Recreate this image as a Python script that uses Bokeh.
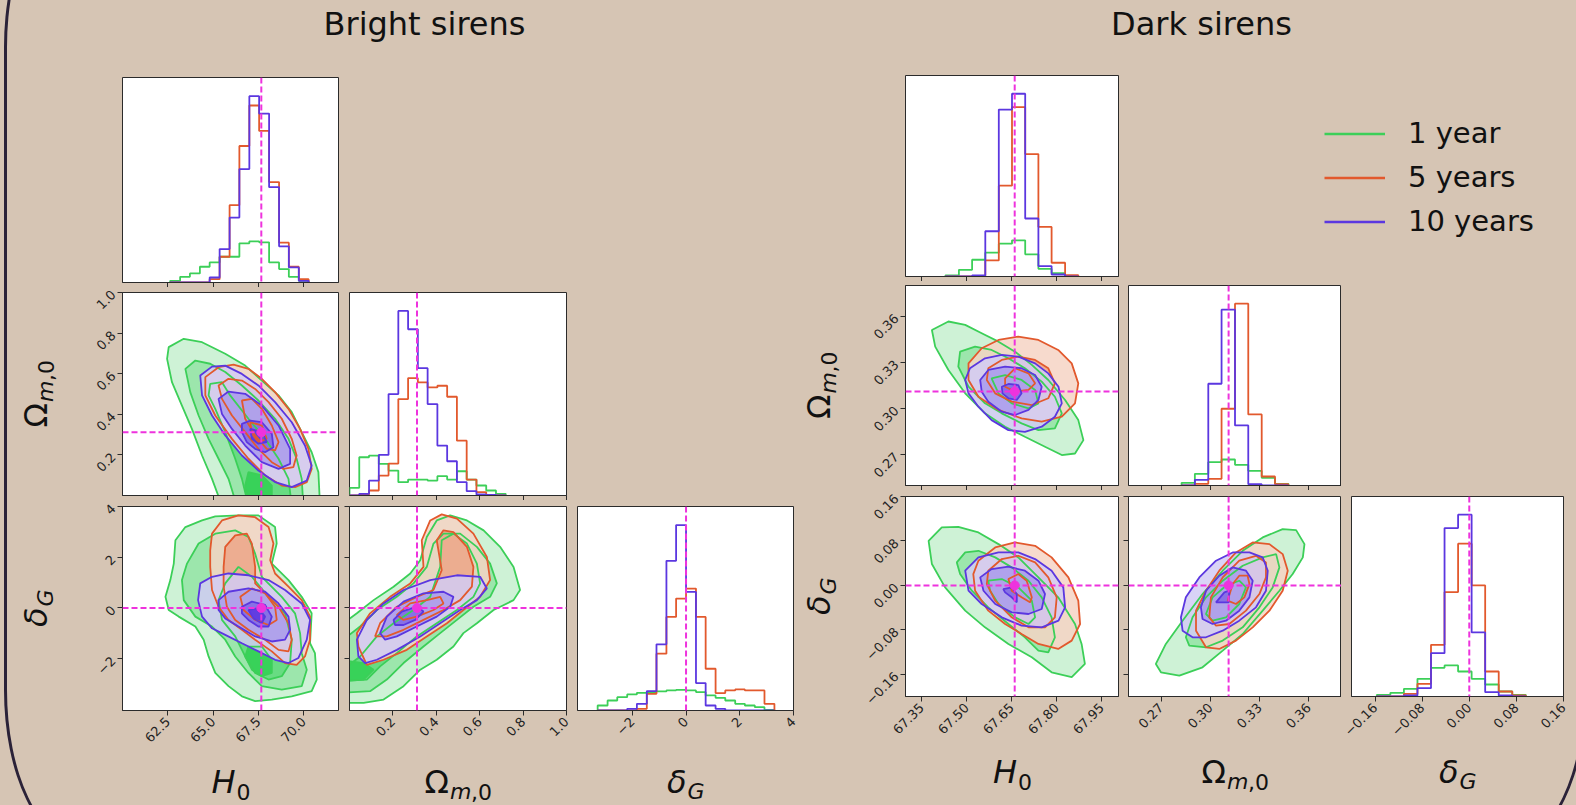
import math
from bokeh.plotting import figure
from bokeh.models import (Range1d, FixedTicker, Span, Label, Legend, LegendItem,
                          Spacer, InlineStyleSheet)
from bokeh.layouts import row, column
from bokeh.embed import file_html
from bokeh.resources import INLINE

# ------------------------------------------------------------------ data
SERIES = ["1 year", "5 years", "10 years"]
TRUTH_H0 = 67.66
TRUTH_OM = 0.3111
TRUTH_DG = 0.0

# ---------------- Bright sirens
B_H0_RANGE = (60.0, 71.92)
B_OM_RANGE = (0.0, 1.0)
B_DG_RANGE = (-4.04, 4.0)
B_H0_TICKS = [62.5, 65.0, 67.5, 70.0]
B_H0_TICK_LABELS = ["62.5", "65.0", "67.5", "70.0"]
B_OM_TICKS = [0.2, 0.4, 0.6, 0.8, 1.0]
B_OM_TICK_LABELS = ["0.2", "0.4", "0.6", "0.8", "1.0"]
B_DG_TICKS = [-2, 0, 2, 4]
B_DG_TICK_LABELS = ["\u22122", "0", "2", "4"]

B_H0_EDGES = [62.63, 63.18, 63.72, 64.27, 64.81, 65.36, 65.91, 66.45, 67.0, 67.54, 68.09, 68.64, 69.18, 69.73, 70.27]
B_H0_1YR = [5, 17, 27, 47, 60, 77, 77, 117, 123, 120, 60, 40, 17, 5]
B_H0_5YR = [0, 0, 0, 0, 10, 77, 231, 408, 529, 453, 300, 119, 47, 10]
B_H0_10YR = [0, 0, 0, 0, 15, 100, 194, 339, 557, 505, 285, 108, 45, 5]

B_OM_EDGES = [0.0, 0.045, 0.09, 0.135, 0.18, 0.225, 0.27, 0.315, 0.36, 0.405, 0.45, 0.495, 0.54, 0.585, 0.63, 0.675, 0.72]
B_OM_1YR = [23, 115, 120, 95, 75, 40, 48, 48, 45, 58, 48, 73, 48, 30, 15, 5]
B_OM_5YR = [0, 3, 15, 60, 96, 290, 353, 340, 325, 330, 297, 165, 48, 10, 0, 0]
B_OM_10YR = [0, 5, 45, 122, 305, 555, 500, 383, 275, 150, 103, 40, 13, 3, 2, 0]

B_DG_EDGES = [-3.29, -2.92, -2.56, -2.19, -1.83, -1.46, -1.10, -0.73, -0.37, 0.0, 0.37, 0.73, 1.10, 1.46, 1.83, 2.19, 2.56, 2.92, 3.29]
B_DG_1YR = [15, 30, 40, 48, 53, 55, 57, 60, 62, 60, 55, 45, 38, 30, 20, 15, 10, 2]
B_DG_5YR = [0, 0, 0, 0, 5, 50, 170, 280, 335, 365, 280, 125, 52, 60, 63, 60, 60, 20]
B_DG_10YR = [0, 0, 0, 5, 20, 58, 198, 448, 555, 355, 82, 15, 5, 0, 0, 0, 0, 0]

# contour levels (outermost first) -- H0 vs Omega_m
B_H0_OM_1YR_X = [
    [62.55, 63.38, 64.39, 65.67, 66.77, 67.69, 68.61, 69.34, 69.89, 70.44, 70.81, 70.90, 65.49, 64.94, 64.39, 63.83, 63.28, 62.73, 62.46],
    [63.47, 64.02, 64.84, 65.67, 66.59, 67.50, 68.42, 69.16, 69.61, 69.89, 69.98, 66.31, 65.85, 65.30, 64.75, 64.20, 63.74],
    [64.84, 65.49, 65.94, 66.95, 67.87, 68.61, 69.16, 69.34, 66.95, 66.59, 66.22, 65.67, 65.12, 64.75],
    [66.95, 67.69, 68.24, 68.24, 66.95, 66.77]]
B_H0_OM_1YR_Y = [
    [0.731, 0.772, 0.755, 0.698, 0.640, 0.566, 0.493, 0.411, 0.312, 0.213, 0.115, -0.05, -0.05, 0.082, 0.197, 0.328, 0.443, 0.558, 0.673],
    [0.624, 0.665, 0.649, 0.608, 0.542, 0.468, 0.378, 0.279, 0.181, 0.082, -0.05, -0.05, 0.082, 0.181, 0.279, 0.394, 0.509],
    [0.550, 0.558, 0.493, 0.378, 0.279, 0.181, 0.082, -0.05, -0.05, 0.082, 0.181, 0.312, 0.427, 0.493],
    [0.115, 0.099, 0.049, -0.05, -0.05, 0.049]]
B_H0_OM_5YR_X = [
    [64.57, 65.30, 66.13, 66.95, 67.69, 68.42, 69.16, 69.80, 70.26, 70.44, 70.17, 69.52, 68.79, 67.87, 66.95, 66.04, 65.12, 64.57],
    [65.30, 65.85, 66.59, 67.32, 68.06, 68.79, 69.34, 69.61, 69.43, 68.88, 68.24, 67.50, 66.77, 66.04, 65.49],
    [66.59, 67.14, 67.69, 68.24, 68.61, 68.42, 67.96, 67.32, 66.77],
    [67.05, 67.69, 67.96, 67.50, 67.14]]
B_H0_OM_5YR_Y = [
    [0.583, 0.632, 0.645, 0.624, 0.575, 0.509, 0.427, 0.328, 0.230, 0.131, 0.066, 0.041, 0.049, 0.099, 0.181, 0.279, 0.394, 0.493],
    [0.542, 0.575, 0.566, 0.525, 0.460, 0.378, 0.279, 0.197, 0.140, 0.131, 0.164, 0.230, 0.312, 0.394, 0.476],
    [0.468, 0.476, 0.427, 0.345, 0.263, 0.222, 0.230, 0.296, 0.378],
    [0.361, 0.345, 0.279, 0.263, 0.304]]
B_H0_OM_10YR_X = [
    [64.29, 64.94, 65.67, 66.59, 67.50, 68.42, 69.34, 70.07, 70.44, 70.17, 69.34, 68.42, 67.50, 66.59, 65.67, 64.94, 64.39],
    [65.30, 65.85, 66.77, 67.69, 68.61, 69.25, 69.25, 68.61, 67.69, 66.77, 66.04, 65.49],
    [66.59, 67.05, 67.69, 68.24, 68.33, 67.87, 67.32, 66.86, 66.59],
    [67.05, 67.69, 67.96, 67.50, 67.14]]
B_H0_OM_10YR_Y = [
    [0.591, 0.635, 0.640, 0.599, 0.542, 0.460, 0.361, 0.246, 0.148, 0.074, 0.041, 0.066, 0.123, 0.197, 0.296, 0.394, 0.493],
    [0.476, 0.512, 0.501, 0.443, 0.345, 0.230, 0.156, 0.131, 0.164, 0.246, 0.328, 0.402],
    [0.353, 0.369, 0.361, 0.304, 0.238, 0.213, 0.230, 0.263, 0.312],
    [0.328, 0.312, 0.263, 0.255, 0.279]]

# H0 vs delta_G
B_H0_DG_1YR_X = [
    [62.92, 63.47, 64.39, 65.12, 66.40, 67.50, 68.42, 68.51, 68.24, 69.16, 69.89, 70.44, 70.35, 70.62, 70.72, 70.44, 69.34, 68.24, 67.32, 66.59, 65.85, 65.12, 64.75, 64.48, 64.02, 63.10, 62.55, 62.37, 62.64, 62.83],
    [63.56, 64.20, 65.12, 66.22, 66.95, 67.32, 67.69, 68.79, 69.52, 69.80, 69.89, 70.17, 69.89, 68.79, 67.69, 66.95, 66.22, 65.67, 64.94, 64.02, 63.38, 63.28],
    [65.67, 66.40, 67.14, 68.06, 68.97, 69.34, 69.25, 68.79, 68.06, 67.32, 66.77, 66.22, 65.49, 65.30],
    [66.95, 67.69, 68.24, 68.24, 67.69, 67.14, 66.77]]
B_H0_DG_1YR_Y = [
    [2.67, 3.19, 3.45, 3.61, 3.65, 3.65, 3.19, 2.54, 1.75, 1.10, 0.44, -0.21, -1.39, -1.78, -2.82, -3.28, -3.48, -3.61, -3.67, -3.48, -3.08, -2.56, -1.91, -1.25, -0.73, -0.34, -0.08, 0.44, 1.10, 1.75],
    [1.75, 2.54, 2.93, 3.06, 2.80, 2.14, 1.23, 0.44, -0.21, -0.99, -1.78, -2.43, -3.08, -3.22, -3.08, -2.56, -1.91, -1.25, -0.73, -0.34, 0.31, 1.10],
    [0.97, 1.62, 1.23, 0.44, -0.21, -1.25, -2.17, -2.69, -2.82, -2.56, -1.91, -1.12, -0.47, 0.31],
    [-1.52, -1.52, -2.04, -2.56, -2.69, -2.43, -1.91]]
B_H0_DG_5YR_X = [
    [64.94, 65.49, 66.40, 67.32, 68.06, 68.33, 68.15, 68.42, 69.16, 69.89, 70.35, 70.35, 70.07, 69.61, 68.97, 68.24, 67.32, 66.59, 65.85, 65.30, 64.94, 64.84, 64.84],
    [65.67, 66.22, 66.86, 67.14, 67.32, 67.32, 67.87, 68.61, 69.16, 69.34, 69.16, 68.61, 67.87, 66.95, 66.22, 65.76, 65.58, 65.58],
    [66.50, 67.14, 67.87, 68.42, 68.51, 68.06, 67.32, 66.68]]
B_H0_DG_5YR_Y = [
    [2.93, 3.45, 3.65, 3.58, 3.19, 2.54, 1.88, 1.36, 0.84, 0.31, -0.34, -1.25, -1.91, -2.24, -2.17, -1.71, -1.25, -0.86, -0.47, 0.05, 0.71, 1.62, 2.27],
    [2.41, 2.86, 2.93, 2.54, 1.62, 0.97, 0.58, 0.05, -0.60, -1.25, -1.71, -1.65, -1.25, -0.86, -0.47, 0.05, 0.84, 1.62],
    [0.44, 0.77, 0.58, 0.05, -0.47, -0.67, -0.47, -0.08]]
B_H0_DG_10YR_X = [
    [64.29, 64.94, 65.85, 66.95, 68.06, 68.97, 69.89, 70.35, 70.17, 69.71, 69.16, 68.42, 67.50, 66.59, 65.67, 64.94, 64.39, 64.17],
    [65.30, 65.85, 66.95, 67.87, 68.61, 69.16, 69.25, 68.97, 68.24, 67.32, 66.40, 65.67, 65.30],
    [66.59, 67.14, 67.87, 68.24, 68.06, 67.50, 66.95, 66.59],
    [66.95, 67.50, 67.87, 67.69, 67.23]]
B_H0_DG_10YR_Y = [
    [0.97, 1.23, 1.36, 1.29, 1.10, 0.71, 0.18, -0.47, -1.25, -1.97, -2.17, -2.04, -1.71, -1.39, -1.06, -0.80, -0.34, 0.31],
    [0.31, 0.64, 0.77, 0.64, 0.18, -0.34, -0.86, -1.25, -1.32, -1.12, -0.73, -0.41, -0.08],
    [0.05, 0.25, 0.12, -0.34, -0.73, -0.73, -0.47, -0.21],
    [-0.08, -0.01, -0.34, -0.60, -0.41]]

# Omega_m vs delta_G
B_OM_DG_1YR_X = [
    [-0.05, 0.034, 0.111, 0.203, 0.280, 0.326, 0.356, 0.402, 0.464, 0.541, 0.618, 0.694, 0.756, 0.786, 0.756, 0.664, 0.587, 0.525, 0.479, 0.402, 0.326, 0.249, 0.157, 0.065, -0.05],
    [-0.05, 0.049, 0.126, 0.218, 0.295, 0.356, 0.387, 0.433, 0.510, 0.587, 0.648, 0.679, 0.648, 0.571, 0.495, 0.418, 0.341, 0.249, 0.172, 0.095, -0.05],
    [-0.05, 0.049, 0.126, 0.203, 0.295, 0.372, 0.418, 0.425, 0.479, 0.541, 0.587, 0.602, 0.571, 0.495, 0.402, 0.310, 0.218, 0.141, 0.080, -0.05],
    [-0.05, 0.065, 0.111, 0.065, -0.05]]
B_OM_DG_1YR_Y = [
    [-0.73, -0.21, 0.31, 0.84, 1.36, 1.88, 2.80, 3.45, 3.65, 3.45, 3.06, 2.41, 1.62, 0.71, 0.31, -0.08, -0.60, -0.99, -1.52, -2.04, -2.43, -3.08, -3.61, -3.74, -3.74],
    [-1.39, -0.73, -0.08, 0.44, 0.97, 1.62, 2.54, 2.93, 2.93, 2.41, 1.75, 0.97, 0.44, 0.05, -0.47, -0.99, -1.52, -2.17, -2.82, -3.28, -3.35],
    [-2.56, -1.91, -1.12, -0.60, -0.08, 0.44, 1.62, 2.67, 2.93, 2.54, 1.75, 0.97, 0.44, -0.08, -0.60, -1.12, -1.78, -2.30, -2.82, -2.89],
    [-2.04, -2.17, -2.43, -2.82, -2.89]]
B_OM_DG_5YR_X = [
    [0.041, 0.034, 0.095, 0.187, 0.280, 0.341, 0.333, 0.372, 0.425, 0.495, 0.571, 0.633, 0.648, 0.602, 0.525, 0.449, 0.356, 0.264, 0.157, 0.080],
    [0.118, 0.141, 0.218, 0.310, 0.387, 0.425, 0.402, 0.433, 0.479, 0.541, 0.571, 0.564, 0.510, 0.433, 0.341, 0.249, 0.172],
    [0.218, 0.280, 0.356, 0.418, 0.433, 0.387, 0.310, 0.249]]
B_OM_DG_5YR_Y = [
    [-1.52, -0.99, -0.21, 0.44, 0.97, 1.62, 2.67, 3.45, 3.69, 3.52, 2.93, 2.01, 1.10, 0.44, -0.08, -0.60, -1.12, -1.65, -2.04, -2.24],
    [-1.12, -0.60, 0.05, 0.44, 0.71, 1.49, 2.67, 3.06, 2.99, 2.41, 1.62, 0.84, 0.31, -0.08, -0.47, -0.86, -1.12],
    [-0.27, 0.18, 0.31, 0.44, 0.18, -0.08, -0.34, -0.47]]
B_OM_DG_10YR_X = [
    [0.041, 0.034, 0.080, 0.157, 0.249, 0.372, 0.495, 0.602, 0.633, 0.587, 0.510, 0.418, 0.326, 0.218, 0.126, 0.072],
    [0.141, 0.172, 0.249, 0.341, 0.433, 0.479, 0.464, 0.402, 0.310, 0.218, 0.164],
    [0.203, 0.241, 0.310, 0.341, 0.303, 0.249, 0.210]]
B_OM_DG_10YR_Y = [
    [-1.91, -1.25, -0.47, 0.18, 0.71, 1.10, 1.29, 1.23, 0.77, 0.31, -0.08, -0.60, -1.12, -1.65, -2.04, -2.17],
    [-0.99, -0.34, 0.25, 0.58, 0.64, 0.44, 0.05, -0.34, -0.73, -1.12, -1.25],
    [-0.47, -0.14, 0.05, -0.14, -0.47, -0.67, -0.67]]

# ---------------- Dark sirens
D_H0_RANGE = (67.296, 68.006)
D_OM_RANGE = (0.25, 0.38)
D_DG_RANGE = (-0.2, 0.16)
D_H0_TICKS = [67.35, 67.5, 67.65, 67.8, 67.95]
D_H0_TICK_LABELS = ["67.35", "67.50", "67.65", "67.80", "67.95"]
D_OM_TICKS = [0.27, 0.3, 0.33, 0.36]
D_OM_TICK_LABELS = ["0.27", "0.30", "0.33", "0.36"]
D_DG_TICKS = [-0.16, -0.08, 0.0, 0.08, 0.16]
D_DG_TICK_LABELS = ["\u22120.16", "\u22120.08", "0.00", "0.08", "0.16"]

D_H0_EDGES = [67.429, 67.474, 67.518, 67.562, 67.607, 67.651, 67.695, 67.739, 67.783, 67.828, 67.872]
D_H0_1YR = [3, 20, 50, 71, 98, 108, 66, 23, 10, 2]
D_H0_5YR = [0, 0, 2, 48, 271, 505, 365, 148, 41, 4]
D_H0_10YR = [0, 0, 3, 135, 498, 545, 173, 31, 6, 0]

D_OM_EDGES = [0.2824, 0.2905, 0.2987, 0.3068, 0.3150, 0.3231, 0.3313, 0.3394, 0.3476]
D_OM_1YR = [8, 35, 70, 78, 62, 44, 23, 5]
D_OM_5YR = [0, 5, 20, 230, 545, 213, 27, 4]
D_OM_10YR = [0, 17, 305, 527, 180, 4, 0, 0]

D_DG_EDGES = [-0.157, -0.134, -0.111, -0.088, -0.065, -0.042, -0.019, 0.004, 0.027, 0.050, 0.073, 0.096]
D_DG_1YR = [5, 11, 23, 53, 86, 93, 75, 53, 36, 15, 5]
D_DG_5YR = [0, 0, 8, 38, 155, 313, 458, 333, 75, 15, 3]
D_DG_10YR = [0, 0, 3, 25, 130, 505, 545, 192, 13, 3, 0]

D_H0_OM_1YR_X = [
    [67.384, 67.439, 67.495, 67.550, 67.606, 67.661, 67.717, 67.772, 67.828, 67.872, 67.889, 67.861, 67.817, 67.761, 67.694, 67.628, 67.561, 67.495, 67.439, 67.395],
    [67.478, 67.528, 67.583, 67.639, 67.694, 67.750, 67.794, 67.817, 67.794, 67.739, 67.683, 67.617, 67.561, 67.506, 67.472],
    [67.583, 67.628, 67.683, 67.728, 67.739, 67.706, 67.650, 67.606]]
D_H0_OM_1YR_Y = [
    [0.3511, 0.3566, 0.3544, 0.3490, 0.3435, 0.3370, 0.3284, 0.3186, 0.3056, 0.2925, 0.2795, 0.2708, 0.2698, 0.2752, 0.2817, 0.2882, 0.2969, 0.3099, 0.3251, 0.3403],
    [0.3370, 0.3403, 0.3381, 0.3327, 0.3262, 0.3175, 0.3077, 0.2969, 0.2871, 0.2860, 0.2904, 0.2969, 0.3034, 0.3142, 0.3273],
    [0.3197, 0.3218, 0.3186, 0.3121, 0.3034, 0.3001, 0.3034, 0.3099]]
D_H0_OM_5YR_X = [
    [67.506, 67.550, 67.606, 67.672, 67.739, 67.805, 67.850, 67.872, 67.861, 67.817, 67.750, 67.683, 67.606, 67.539, 67.506],
    [67.572, 67.617, 67.672, 67.728, 67.772, 67.794, 67.772, 67.717, 67.650, 67.595, 67.567],
    [67.628, 67.661, 67.706, 67.728, 67.706, 67.661, 67.628]]
D_H0_OM_5YR_Y = [
    [0.3294, 0.3392, 0.3446, 0.3468, 0.3446, 0.3381, 0.3294, 0.3164, 0.3034, 0.2947, 0.2915, 0.2936, 0.2991, 0.3077, 0.3186],
    [0.3262, 0.3316, 0.3338, 0.3316, 0.3262, 0.3164, 0.3067, 0.3023, 0.3045, 0.3099, 0.3186],
    [0.3197, 0.3262, 0.3229, 0.3164, 0.3121, 0.3110, 0.3142]]
D_H0_OM_10YR_X = [
    [67.495, 67.511, 67.561, 67.617, 67.672, 67.728, 67.772, 67.806, 67.817, 67.794, 67.750, 67.694, 67.639, 67.583, 67.539, 67.506],
    [67.545, 67.572, 67.628, 67.683, 67.728, 67.750, 67.739, 67.706, 67.661, 67.617, 67.572, 67.550],
    [67.617, 67.639, 67.672, 67.683, 67.667, 67.639, 67.619]]
D_H0_OM_10YR_Y = [
    [0.3186, 0.3262, 0.3327, 0.3349, 0.3338, 0.3294, 0.3229, 0.3142, 0.3034, 0.2947, 0.2882, 0.2849, 0.2860, 0.2925, 0.3012, 0.3099],
    [0.3186, 0.3251, 0.3273, 0.3262, 0.3218, 0.3142, 0.3056, 0.2991, 0.2958, 0.2980, 0.3045, 0.3110],
    [0.3142, 0.3160, 0.3153, 0.3099, 0.3056, 0.3067, 0.3099]]

D_H0_DG_1YR_X = [
    [67.373, 67.417, 67.472, 67.539, 67.606, 67.672, 67.739, 67.805, 67.861, 67.883, 67.894, 67.850, 67.783, 67.717, 67.639, 67.561, 67.495, 67.428, 67.384],
    [67.467, 67.495, 67.539, 67.595, 67.650, 67.706, 67.750, 67.783, 67.794, 67.772, 67.739, 67.694, 67.639, 67.572, 67.517, 67.478],
    [67.572, 67.617, 67.672, 67.717, 67.728, 67.706, 67.661, 67.606, 67.578]]
D_H0_DG_1YR_Y = [
    [0.0803, 0.1043, 0.1055, 0.0953, 0.0743, 0.0504, 0.0144, -0.0215, -0.0695, -0.1054, -0.1414, -0.1653, -0.1564, -0.1294, -0.1054, -0.0755, -0.0455, -0.0036, 0.0384],
    [0.0414, 0.0593, 0.0623, 0.0504, 0.0324, 0.0084, -0.0215, -0.0575, -0.0934, -0.1204, -0.1174, -0.0934, -0.0695, -0.0395, -0.0096, 0.0204],
    [0.0084, 0.0114, -0.0036, -0.0275, -0.0575, -0.0695, -0.0575, -0.0335, -0.0096]]
D_H0_DG_5YR_X = [
    [67.539, 67.595, 67.661, 67.728, 67.783, 67.839, 67.872, 67.878, 67.850, 67.805, 67.739, 67.683, 67.628, 67.572, 67.528, 67.522],
    [67.572, 67.617, 67.672, 67.728, 67.772, 67.800, 67.794, 67.761, 67.706, 67.650, 67.595, 67.567],
    [67.639, 67.672, 67.700, 67.717, 67.711, 67.683, 67.650]]
D_H0_DG_5YR_Y = [
    [0.0444, 0.0683, 0.0773, 0.0713, 0.0504, 0.0144, -0.0275, -0.0695, -0.0994, -0.1144, -0.1054, -0.0875, -0.0695, -0.0455, -0.0096, 0.0204],
    [0.0264, 0.0474, 0.0533, 0.0414, 0.0144, -0.0215, -0.0575, -0.0755, -0.0755, -0.0575, -0.0275, 0.0024],
    [0.0114, 0.0204, 0.0084, -0.0215, -0.0305, -0.0215, -0.0096]]
D_H0_DG_10YR_X = [
    [67.495, 67.539, 67.606, 67.672, 67.728, 67.783, 67.822, 67.828, 67.806, 67.750, 67.683, 67.617, 67.550, 67.506],
    [67.545, 67.583, 67.639, 67.694, 67.739, 67.761, 67.750, 67.706, 67.650, 67.595, 67.556],
    [67.622, 67.650, 67.667, 67.667, 67.650, 67.628]]
D_H0_DG_10YR_Y = [
    [0.0264, 0.0504, 0.0593, 0.0593, 0.0474, 0.0264, -0.0036, -0.0395, -0.0635, -0.0755, -0.0725, -0.0575, -0.0335, -0.0096],
    [0.0144, 0.0294, 0.0336, 0.0264, 0.0084, -0.0155, -0.0425, -0.0515, -0.0485, -0.0335, -0.0096],
    [-0.0066, -0.0036, -0.0155, -0.0305, -0.0215, -0.0126]]

D_OM_DG_1YR_X = [
    [0.2667, 0.2728, 0.2830, 0.2952, 0.3075, 0.3197, 0.3319, 0.3441, 0.3523, 0.3574, 0.3564, 0.3502, 0.3421, 0.3319, 0.3197, 0.3075, 0.2952, 0.2810, 0.2698],
    [0.2850, 0.2891, 0.2973, 0.3075, 0.3197, 0.3319, 0.3401, 0.3421, 0.3380, 0.3299, 0.3197, 0.3075, 0.2973, 0.2871],
    [0.2973, 0.3013, 0.3095, 0.3176, 0.3217, 0.3176, 0.3095, 0.3013]]
D_OM_DG_1YR_Y = [
    [-0.1414, -0.1054, -0.0635, -0.0156, 0.0264, 0.0623, 0.0863, 0.1013, 0.0995, 0.0743, 0.0504, 0.0204, -0.0096, -0.0455, -0.0875, -0.1174, -0.1474, -0.1624, -0.1564],
    [-0.0934, -0.0575, -0.0215, 0.0084, 0.0354, 0.0504, 0.0563, 0.0324, -0.0036, -0.0395, -0.0755, -0.0994, -0.1114, -0.1084],
    [-0.0515, -0.0215, -0.0006, 0.0084, -0.0036, -0.0335, -0.0575, -0.0635]]
D_OM_DG_5YR_X = [
    [0.2912, 0.2912, 0.2973, 0.3054, 0.3156, 0.3258, 0.3360, 0.3441, 0.3472, 0.3441, 0.3360, 0.3258, 0.3156, 0.3054, 0.2973],
    [0.2993, 0.3003, 0.3075, 0.3176, 0.3278, 0.3339, 0.3339, 0.3299, 0.3217, 0.3115, 0.3034],
    [0.3105, 0.3136, 0.3176, 0.3227, 0.3238, 0.3207, 0.3156]]
D_OM_DG_5YR_Y = [
    [-0.0815, -0.0455, -0.0096, 0.0264, 0.0593, 0.0773, 0.0743, 0.0563, 0.0264, -0.0096, -0.0455, -0.0755, -0.0994, -0.1144, -0.1114],
    [-0.0575, -0.0215, 0.0144, 0.0444, 0.0533, 0.0414, 0.0144, -0.0156, -0.0455, -0.0695, -0.0725],
    [-0.0275, 0.0024, 0.0174, 0.0174, 0.0024, -0.0215, -0.0335]]
D_OM_DG_10YR_X = [
    [0.2820, 0.2850, 0.2932, 0.3034, 0.3136, 0.3238, 0.3319, 0.3350, 0.3339, 0.3278, 0.3176, 0.3075, 0.2973, 0.2891, 0.2830],
    [0.2942, 0.2973, 0.3054, 0.3136, 0.3217, 0.3258, 0.3238, 0.3176, 0.3095, 0.3013, 0.2952],
    [0.3034, 0.3085, 0.3115, 0.3111]]
D_OM_DG_10YR_Y = [
    [-0.0575, -0.0215, 0.0144, 0.0444, 0.0593, 0.0593, 0.0504, 0.0264, -0.0096, -0.0395, -0.0635, -0.0815, -0.0934, -0.0934, -0.0815],
    [-0.0395, -0.0096, 0.0174, 0.0324, 0.0264, 0.0084, -0.0215, -0.0455, -0.0635, -0.0695, -0.0605],
    [-0.0305, -0.0126, -0.0096, -0.0305]]

# ------------------------------------------------------------------ styles
BG = "#d6c5b4"
FRAME = "#2b2238"
AX = "#2b2b2b"
COLORS = ["#3ccf58", "#e2592d", "#5b37e0"]
TINTS = [["#c6f0cf", "#93e4a5", "#5fd97a", "#30d052"],
         ["#f6d4c4", "#eda688", "#e5825c", "#e05a2d"],
         ["#d2cbf5", "#a99bec", "#8068e4", "#5a35e0"]]
FILL_ALPHA = 0.85
MAG = "#ee33dd"
FONT = "DejaVu Sans"
MID = 0.35   # distance from alphabetic baseline to text middle, in em

BRIGHT = dict(
    vars=[(B_H0_RANGE, B_H0_TICKS, B_H0_TICK_LABELS, TRUTH_H0),
          (B_OM_RANGE, B_OM_TICKS, B_OM_TICK_LABELS, TRUTH_OM),
          (B_DG_RANGE, B_DG_TICKS, B_DG_TICK_LABELS, TRUTH_DG)],
    hists=[(B_H0_EDGES, [B_H0_1YR, B_H0_5YR, B_H0_10YR]),
           (B_OM_EDGES, [B_OM_1YR, B_OM_5YR, B_OM_10YR]),
           (B_DG_EDGES, [B_DG_1YR, B_DG_5YR, B_DG_10YR])],
    contours={(0, 1): [(B_H0_OM_1YR_X, B_H0_OM_1YR_Y), (B_H0_OM_5YR_X, B_H0_OM_5YR_Y), (B_H0_OM_10YR_X, B_H0_OM_10YR_Y)],
              (0, 2): [(B_H0_DG_1YR_X, B_H0_DG_1YR_Y), (B_H0_DG_5YR_X, B_H0_DG_5YR_Y), (B_H0_DG_10YR_X, B_H0_DG_10YR_Y)],
              (1, 2): [(B_OM_DG_1YR_X, B_OM_DG_1YR_Y), (B_OM_DG_5YR_X, B_OM_DG_5YR_Y), (B_OM_DG_10YR_X, B_OM_DG_10YR_Y)]},
)
DARK = dict(
    vars=[(D_H0_RANGE, D_H0_TICKS, D_H0_TICK_LABELS, TRUTH_H0),
          (D_OM_RANGE, D_OM_TICKS, D_OM_TICK_LABELS, TRUTH_OM),
          (D_DG_RANGE, D_DG_TICKS, D_DG_TICK_LABELS, TRUTH_DG)],
    hists=[(D_H0_EDGES, [D_H0_1YR, D_H0_5YR, D_H0_10YR]),
           (D_OM_EDGES, [D_OM_1YR, D_OM_5YR, D_OM_10YR]),
           (D_DG_EDGES, [D_DG_1YR, D_DG_5YR, D_DG_10YR])],
    contours={(0, 1): [(D_H0_OM_1YR_X, D_H0_OM_1YR_Y), (D_H0_OM_5YR_X, D_H0_OM_5YR_Y), (D_H0_OM_10YR_X, D_H0_OM_10YR_Y)],
              (0, 2): [(D_H0_DG_1YR_X, D_H0_DG_1YR_Y), (D_H0_DG_5YR_X, D_H0_DG_5YR_Y), (D_H0_DG_10YR_X, D_H0_DG_10YR_Y)],
              (1, 2): [(D_OM_DG_1YR_X, D_OM_DG_1YR_Y), (D_OM_DG_5YR_X, D_OM_DG_5YR_Y), (D_OM_DG_10YR_X, D_OM_DG_10YR_Y)]},
)

# math axis labels: (text, along, up, size, style, align)
LABEL_PIECES = {
    0: [("H", 5, 0, 32, "italic", "right"), ("0", 6, -6, 22, "normal", "left")],
    1: [("\u03a9", -9, 0, 32, "normal", "right"), ("m", -8, -6, 22, "italic", "left"),
        (",0", 13, -6, 22, "normal", "left")],
    2: [("\u03b4", 1, 0, 32, "italic", "right"), ("G", 2, -6, 22, "italic", "left")],
}

# layout geometry (pixels)
GEOM_B = dict(cols=[(62, 5), (6, 5), (6, 7)], w=[216, 217, 216],
              rows=[(17, 5), (5, 5), (6, 50)], h=[205, 203, 204],
              strip_w=60, xstrip_h=45, title_x=424, label_below=83)
GEOM_D = dict(cols=[(58, 5), (5, 0), (10, 13)], w=[213, 213, 212],
              rows=[(15, 5), (4, 5), (6, 54)], h=[201, 200, 200],
              strip_w=47, xstrip_h=55, title_x=401, label_below=87)
TITLE_H = 60
TITLE_BASE = 35      # title baseline from the top of the page
LABEL_LEFT = 75      # baseline of y labels left of the frame


def hist_xy(edges, counts):
    xs, ys = [edges[0]], [0.0]
    for k, c in enumerate(counts):
        xs += [edges[k], edges[k + 1]]
        ys += [c, c]
    xs.append(edges[-1])
    ys.append(0.0)
    return xs, ys


def style_axis(ax, ticks, labels, show_labels):
    ax.ticker = FixedTicker(ticks=ticks, minor_ticks=[])
    ax.major_tick_in = 0
    ax.major_tick_out = 5
    ax.minor_tick_in = 0
    ax.minor_tick_out = 0
    ax.axis_line_color = AX
    ax.major_tick_line_color = AX
    if show_labels:
        ax.major_label_overrides = dict(zip(ticks, labels))
        ax.major_label_orientation = math.pi / 4
        ax.major_label_text_font_size = "13px"
        ax.major_label_text_font = FONT
        ax.major_label_text_color = "#222222"
        ax.major_label_standoff = 4
    else:
        ax.major_label_overrides = {t: "" for t in ticks}
        ax.major_label_orientation = "horizontal"
        ax.major_label_text_font_size = "1px"
        ax.major_label_standoff = 0


def strip_fig(w, h):
    p = figure(width=w, height=h, x_range=Range1d(0, w), y_range=Range1d(0, h),
               output_backend="svg", toolbar_location=None,
               min_border_left=0, min_border_right=0, min_border_top=0, min_border_bottom=0,
               x_axis_location=None, y_axis_location=None, outline_line_color=None,
               background_fill_color=BG, border_fill_color=BG)
    p.grid.visible = False
    return p


def add_math(p, var, x0, y0, vertical):
    for text, along, up, size, style, align in LABEL_PIECES[var]:
        lift = up + MID * size
        if vertical:
            x, y, ang = x0 - lift, y0 + along, math.pi / 2
        else:
            x, y, ang = x0 + along, y0 + lift, 0.0
        p.add_layout(Label(x=x, y=y, text=text, angle=ang, text_font=FONT,
                           text_font_size=f"{size}px", text_font_style=style,
                           text_align=align, text_baseline="middle",
                           text_color="#111111"))


def make_panel(spec, geom, i, j):
    bl, br = geom["cols"][j]
    bt, bb = geom["rows"][i]
    wf, hf = geom["w"][j], geom["h"][i]
    xr, xt, xl, xtruth = spec["vars"][j]
    diag = i == j
    if diag:
        edges, hs = spec["hists"][j]
        yr = (0.0, 1.1 * max(max(h) for h in hs))
    else:
        yr, yt, yl, ytruth = spec["vars"][i]
    p = figure(width=bl + wf + br, height=bt + hf + bb,
               x_range=Range1d(*xr), y_range=Range1d(*yr),
               output_backend="svg", toolbar_location=None,
               min_border_left=bl, min_border_right=br,
               min_border_top=bt, min_border_bottom=bb,
               background_fill_color="white", border_fill_color=BG,
               outline_line_color=AX, outline_line_width=1,
               y_axis_location=None if diag else "left")
    p.grid.visible = False
    style_axis(p.xaxis[0], xt, xl, i == 2)
    if not diag:
        style_axis(p.yaxis[0], yt, yl, j == 0)

    if diag:
        for s, h in enumerate(hs):
            xs, ys = hist_xy(edges, h)
            p.line(xs, ys, line_color=COLORS[s], line_width=1.8)
        p.add_layout(Span(location=xtruth, dimension="height", line_color=MAG,
                          line_width=2, line_dash="6 3"))
    else:
        levels = spec["contours"][(j, i)]
        for s, (cx, cy) in enumerate(levels):
            p.patches(xs=cx, ys=cy, fill_color=TINTS[s][:len(cx)],
                      fill_alpha=FILL_ALPHA, line_color=None)
        for s, (cx, cy) in enumerate(levels):
            p.patches(xs=cx, ys=cy, fill_color=None, line_color=COLORS[s],
                      line_width=1.8)
        p.add_layout(Span(location=xtruth, dimension="height", line_color=MAG,
                          line_width=2, line_dash="6 3"))
        p.add_layout(Span(location=ytruth, dimension="width", line_color=MAG,
                          line_width=2, line_dash="6 3"))
        p.scatter(x=[xtruth], y=[ytruth], size=9, color=MAG)
    return p


def legend_fig(w, h):
    p = strip_fig(w, h)
    nan = float("nan")
    rends = [p.line(x=[nan, nan], y=[nan, nan], line_color=COLORS[s], line_width=2.6)
             for s in range(3)]
    lg = Legend(items=[LegendItem(label=SERIES[s], renderers=[rends[s]]) for s in range(3)],
                location=(201, 38), glyph_width=61, glyph_height=33,
                label_height=33, label_standoff=23, spacing=10, padding=0,
                margin=0, border_line_color=None, background_fill_alpha=0,
                label_text_font=FONT, label_text_font_size="29px",
                label_text_color="#111111", label_text_baseline="middle")
    p.add_layout(lg)
    return p


def title_fig(width, text, x_center):
    p = strip_fig(width, TITLE_H)
    size = 32
    p.add_layout(Label(x=x_center, y=TITLE_H - TITLE_BASE + MID * size, text=text,
                       text_font=FONT, text_font_size=f"{size}px",
                       text_align="center", text_baseline="middle",
                       text_color="#111111"))
    return p


def build_block(spec, geom, title, with_legend):
    col_w = [bl + w + br for (bl, br), w in zip(geom["cols"], geom["w"])]
    row_h = [bt + h + bb for (bt, bb), h in zip(geom["rows"], geom["h"])]
    grid_w, mid_h = sum(col_w), sum(row_h)
    block_w = geom["strip_w"] + grid_w

    grid_rows = []
    for i in range(3):
        figs = [make_panel(spec, geom, i, j) for j in range(i + 1)]
        used = sum(f.width for f in figs)
        if used < grid_w:
            if with_legend and i == 0:
                figs.append(legend_fig(grid_w - used, row_h[0]))
            else:
                figs.append(Spacer(width=grid_w - used, height=row_h[i]))
        grid_rows.append(row(*figs, spacing=0))
    grid = column(*grid_rows, spacing=0)

    # y-label strip (left of the grid)
    ystrip = strip_fig(geom["strip_w"], mid_h)
    base_x = geom["strip_w"] + geom["cols"][0][0] - LABEL_LEFT
    for i in (1, 2):
        top = sum(row_h[:i]) + geom["rows"][i][0] + geom["h"][i] / 2
        add_math(ystrip, i, base_x, mid_h - top, True)

    # x-label strip (below the grid)
    xstrip = strip_fig(block_w, geom["xstrip_h"])
    base_y = geom["xstrip_h"] - (geom["label_below"] - geom["rows"][2][1])
    for j in range(3):
        cx = geom["strip_w"] + sum(col_w[:j]) + geom["cols"][j][0] + geom["w"][j] / 2
        add_math(xstrip, j, cx, base_y, False)

    return column(title_fig(block_w, title, geom["title_x"]),
                  row(ystrip, grid, spacing=0),
                  xstrip, spacing=0)


left_block = build_block(BRIGHT, GEOM_B, "Bright sirens", False)
right_block = build_block(DARK, GEOM_D, "Dark sirens", True)

css = """
:host { background-color: %s; overflow: hidden; position: relative; }
:host::after { content: ""; position: absolute; left: 4px; top: -108px;
  width: 1583px; height: 953px; border: 3px solid %s;
  border-radius: 76px / 155px; box-sizing: border-box; pointer-events: none; z-index: 10; }
""" % (BG, FRAME)

root = row(left_block, right_block, spacing=0,
           styles={"background-color": BG},
           stylesheets=[InlineStyleSheet(css=css)])

open("out.html", "w").write(file_html(root, INLINE, title="Bright and dark sirens"))
